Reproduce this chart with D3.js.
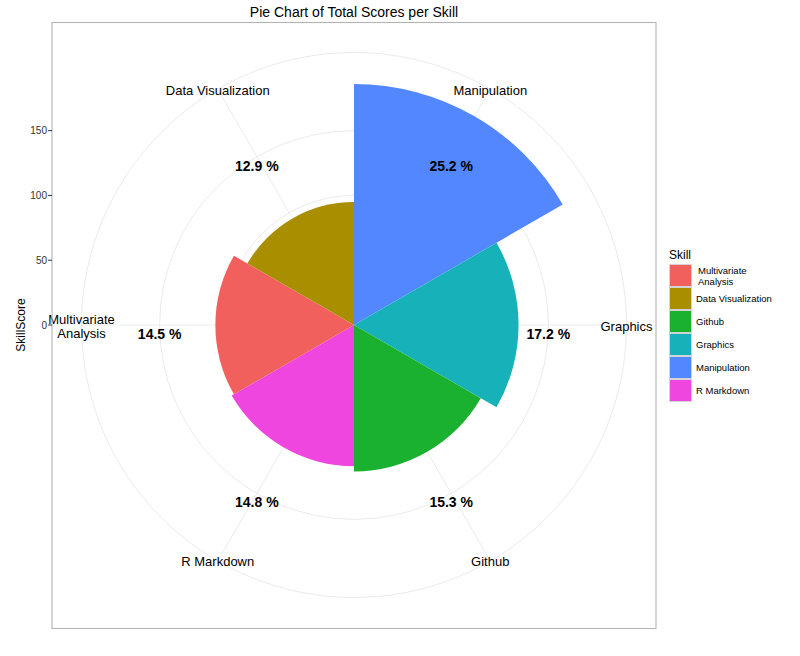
<!DOCTYPE html>
<html>
<head>
<meta charset="utf-8">
<script src="https://cdn.jsdelivr.net/npm/d3@7"></script>
<style>
  html, body { margin: 0; padding: 0; background: #fff; }
  svg { display: block; font-family: "Liberation Sans", Arial, Helvetica, sans-serif; }
</style>
</head>
<body>
<svg id="chart" width="800" height="656"></svg>
<script>
// ---- data ----
const categories = ["Manipulation", "Graphics", "Github", "R Markdown", "Multivariate Analysis", "Data Visualization"];
const scores = [186, 127, 113, 109, 107, 95];
const legendOrder = ["Multivariate Analysis", "Data Visualization", "Github", "Graphics", "Manipulation", "R Markdown"];
const legendLabels = [["Multivariate", "Analysis"], ["Data Visualization"], ["Github"], ["Graphics"], ["Manipulation"], ["R Markdown"]];
const axisLabels = [["Manipulation"], ["Graphics"], ["Github"], ["R Markdown"], ["Multivariate", "Analysis"], ["Data Visualization"]];
const skillColors = ["#F2605D", "#A98F00", "#19B12F", "#17B2B9", "#5287FF", "#EF46DF"];
const yTicks = [0, 50, 100, 150];
const titleText = "Pie Chart of Total Scores per Skill";
const yTitle = "SkillScore";
const legendTitle = "Skill";

// ---- layout ----
const svg = d3.select("#chart");
const panel = { x: 52, y: 22.5, w: 604, h: 606 };
const cx = 354, cy = 325;
const unit = 604;              // size of one npc unit in px
const total = d3.sum(scores);

const color = d3.scaleOrdinal().domain(legendOrder).range(skillColors);
const r = d3.scaleLinear().domain([0, d3.max(scores)]).range([0, 241]);
const theta = d3.scaleBand().domain(categories).range([0, 2 * Math.PI]);
const outerR = 0.45 * unit + 0.7;

svg.append("rect").attr("width", 800).attr("height", 656).attr("fill", "#fff");

// panel
svg.append("rect")
  .attr("x", panel.x).attr("y", panel.y).attr("width", panel.w).attr("height", panel.h)
  .attr("fill", "#fff");

const g = svg.append("g").attr("transform", `translate(${cx},${cy})`);

// grid circles
const circR = yTicks.filter(d => d > 0).map(d => r(d)).concat([outerR]);
g.selectAll("circle.grid").data(circR).enter().append("circle")
  .attr("r", d => d).attr("fill", "none").attr("stroke", "#ebebeb").attr("stroke-width", 1);

// spokes
g.selectAll("line.spoke").data(categories).enter().append("line")
  .attr("x1", 0).attr("y1", 0)
  .attr("x2", d => outerR * Math.sin(theta(d) + theta.bandwidth() / 2))
  .attr("y2", d => -outerR * Math.cos(theta(d) + theta.bandwidth() / 2))
  .attr("stroke", "#ebebeb").attr("stroke-width", 1);

// wedges
const arc = d3.arc().innerRadius(0);
g.selectAll("path.wedge").data(categories).enter().append("path")
  .attr("d", (d, i) => arc({ startAngle: theta(d), endAngle: theta(d) + theta.bandwidth(), outerRadius: r(scores[i]) }))
  .attr("fill", d => color(d));

// percentage labels
const labR = r(150);
g.selectAll("text.pct").data(categories).enter().append("text")
  .attr("x", d => labR * Math.sin(theta(d) + theta.bandwidth() / 2))
  .attr("y", d => -labR * Math.cos(theta(d) + theta.bandwidth() / 2) + 9)
  .attr("text-anchor", "middle").attr("dominant-baseline", "central")
  .attr("font-size", 14).attr("font-weight", "bold").attr("fill", "#000")
  .text((d, i) => (scores[i] / total * 100).toFixed(1) + " %");

// category (theta) labels
categories.forEach((d, i) => {
  const a = theta(d) + theta.bandwidth() / 2;
  const x = outerR * Math.sin(a), y = -outerR * Math.cos(a);
  const lines = axisLabels[i];
  const lh = 14;
  const t = g.append("text").attr("text-anchor", "middle").attr("font-size", 13).attr("fill", "#000");
  lines.forEach((ln, k) => {
    t.append("tspan").attr("x", x)
      .attr("y", y + (k - (lines.length - 1) / 2) * lh + 1)
      .attr("dominant-baseline", "central").text(ln);
  });
});

// panel border
svg.append("rect")
  .attr("x", panel.x).attr("y", panel.y).attr("width", panel.w).attr("height", panel.h)
  .attr("fill", "none").attr("stroke", "#b3b3b3").attr("stroke-width", 1.1);

// y axis (radius)
const yAx = svg.append("g");
yTicks.forEach(v => {
  const yy = cy - r(v);
  yAx.append("line").attr("x1", panel.x - 4).attr("x2", panel.x).attr("y1", yy).attr("y2", yy)
    .attr("stroke", "#333").attr("stroke-width", 1);
  yAx.append("text").attr("x", panel.x - 5).attr("y", yy).attr("text-anchor", "end")
    .attr("dominant-baseline", "central").attr("font-size", 10).attr("fill", "#333").text(v);
});
svg.append("text").attr("transform", `translate(21,${cy}) rotate(-90)`)
  .attr("text-anchor", "middle").attr("dominant-baseline", "central")
  .attr("font-size", 12).attr("fill", "#000").text(yTitle);

// title
svg.append("text").attr("x", cx).attr("y", 12).attr("text-anchor", "middle")
  .attr("dominant-baseline", "central").attr("font-size", 14).attr("fill", "#000").text(titleText);

// legend
const lg = svg.append("g");
lg.append("text").attr("x", 669).attr("y", 255).attr("dominant-baseline", "central")
  .attr("font-size", 12).attr("fill", "#000").text(legendTitle);
legendOrder.forEach((d, i) => {
  const ky = 264 + i * 23;
  lg.append("rect").attr("x", 669.5).attr("y", ky + 0.5).attr("width", 22).attr("height", 22)
    .attr("fill", color(d)).attr("stroke", "#d4d4d4").attr("stroke-width", 1);
  const lines = legendLabels[i];
  const t = lg.append("text").attr("font-size", 9.5).attr("fill", "#000");
  lines.forEach((ln, k) => {
    t.append("tspan").attr("x", lines.length > 1 ? 698 : 696)
      .attr("y", ky + 11.5 + (k - (lines.length - 1) / 2) * 11)
      .attr("dominant-baseline", "central").text(ln);
  });
});
</script>
</body>
</html>
